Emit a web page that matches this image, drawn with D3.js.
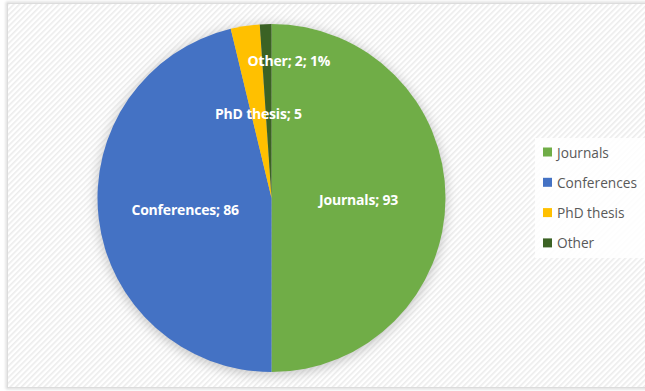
<!DOCTYPE html>
<html>
<head>
<meta charset="utf-8">
<script src="https://cdn.jsdelivr.net/npm/d3@7"></script>
<style>
  html, body { margin: 0; padding: 0; background: #ffffff; }
  svg { display: block; }
</style>
</head>
<body>
<svg id="chart" width="645" height="391"></svg>
<script>
// Publication types
const categories = ["Journals", "Conferences", "PhD thesis", "Other"];
const counts = [93, 86, 5, 2];
const colors = ["#70AD47", "#4472C4", "#FFC000", "#3B6224"];
const showPercent = [false, false, false, true];

const W = 645, H = 391;
const svg = d3.select("#chart");
const defs = svg.append("defs");

// diagonal hatch used as the chart area fill
const hatch = defs.append("pattern")
  .attr("id", "hatch")
  .attr("patternUnits", "userSpaceOnUse")
  .attr("width", 4).attr("height", 4)
  .attr("patternTransform", "rotate(45)");
hatch.append("rect").attr("width", 4).attr("height", 4).attr("fill", "#ffffff");
hatch.append("rect").attr("width", 1.6).attr("height", 4).attr("fill", "#ececec");

const shadow = defs.append("filter")
  .attr("id", "soft").attr("x", "-20%").attr("y", "-20%")
  .attr("width", "140%").attr("height", "140%");
shadow.append("feGaussianBlur").attr("stdDeviation", 6);

const frameShadow = defs.append("filter")
  .attr("id", "frameShadow").attr("x", "-5%").attr("y", "-5%")
  .attr("width", "110%").attr("height", "110%");
frameShadow.append("feGaussianBlur").attr("stdDeviation", 1.5);

// chart frame
svg.append("rect")
  .attr("x", 7).attr("y", 3).attr("width", W).attr("height", H - 6)
  .attr("fill", "none").attr("stroke", "#cfcfcf").attr("stroke-width", 2)
  .attr("filter", "url(#frameShadow)");
svg.append("rect")
  .attr("x", 7.5).attr("y", 3.5).attr("width", W).attr("height", H - 7)
  .attr("fill", "url(#hatch)").attr("stroke", "#dcdcdc").attr("stroke-width", 1);

// pie
const cx = 271.5, cy = 198, R = 174;
const total = d3.sum(counts);
const data = categories.map((c, i) => ({ name: c, value: counts[i], color: colors[i], pct: showPercent[i] }));

const pie = d3.pie().value(d => d.value).sort(null);
const arcs = pie(data);
const arc = d3.arc().innerRadius(0).outerRadius(R);

const g = svg.append("g").attr("transform", `translate(${cx},${cy})`);

g.append("circle")
  .attr("r", R + 1)
  .attr("cx", 0).attr("cy", 2)
  .attr("fill", "#9a9a9a").attr("opacity", 0.55)
  .attr("filter", "url(#soft)");

g.selectAll("path.slice")
  .data(arcs)
  .join("path")
  .attr("class", "slice")
  .attr("d", arc)
  .attr("fill", d => d.data.color);

// data labels: half radius for regular slices, pushed outward for thin ones
const labelArc = d3.arc().innerRadius(R * 0.5).outerRadius(R * 0.5);
const outerLabelArc = d3.arc().innerRadius(R * 0.79).outerRadius(R * 0.79);
const fmtPct = d3.format(".0%");

g.selectAll("text.lbl")
  .data(arcs)
  .join("text")
  .attr("class", "lbl")
  .attr("transform", d => {
    const share = d.data.value / total;
    if (share < 0.02) {
      const [x, y] = outerLabelArc.centroid(d);
      return `translate(${x + 22},${y})`;
    }
    const [x, y] = labelArc.centroid(d);
    return `translate(${x},${y + 1})`;
  })
  .attr("text-anchor", "middle")
  .attr("dominant-baseline", "central")
  .attr("font-family", "'Open Sans', sans-serif")
  .attr("font-weight", "bold")
  .attr("font-size", 14)
  .attr("letter-spacing", -0.2)
  .attr("fill", "#ffffff")
  .text(d => d.data.pct
    ? `${d.data.name}; ${d.data.value}; ${fmtPct(d.data.value / total)}`
    : `${d.data.name}; ${d.data.value}`);

// legend
const lg = svg.append("g");
lg.append("rect")
  .attr("x", 535).attr("y", 138).attr("width", 112).attr("height", 120)
  .attr("fill", "#ffffff").attr("opacity", 0.85);

const item = lg.selectAll("g.item")
  .data(data)
  .join("g")
  .attr("class", "item")
  .attr("transform", (d, i) => `translate(543,${152 + i * 30.3})`);
item.append("rect")
  .attr("x", 0).attr("y", -4.5).attr("width", 9).attr("height", 9)
  .attr("fill", d => d.color);
item.append("text")
  .attr("x", 14).attr("y", 0)
  .attr("dominant-baseline", "central")
  .attr("font-family", "'Open Sans', sans-serif")
  .attr("font-size", 13.7)
  .attr("fill", "#595959")
  .text(d => d.name);
</script>
</body>
</html>
